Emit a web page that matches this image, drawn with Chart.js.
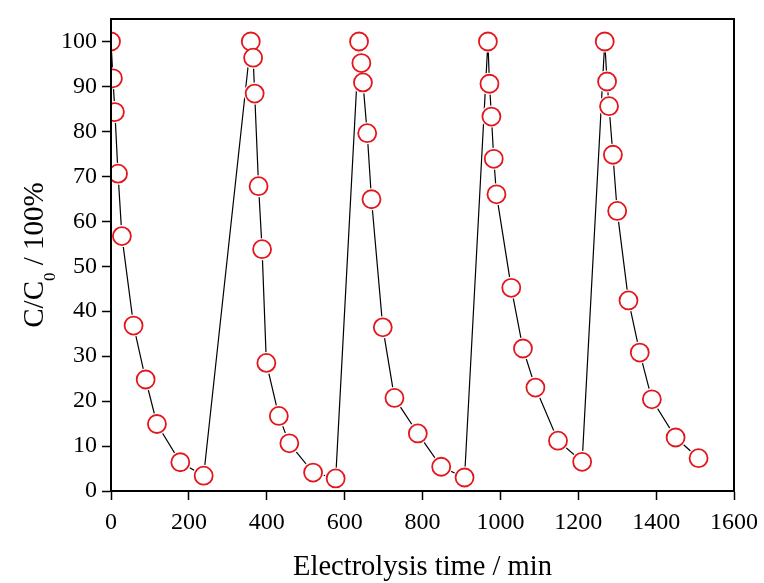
<!DOCTYPE html>
<html>
<head>
<meta charset="utf-8">
<title>Electrolysis cycles</title>
<script src="https://cdn.jsdelivr.net/npm/chart.js@4/dist/chart.umd.min.js"></script>
<style>
    html, body { margin: 0; padding: 0; background: #fff; }
    #wrap { width: 764px; height: 583px; }
</style>
</head>
<body>
<div id="wrap"><canvas id="myChart" width="764" height="583"></canvas></div>
<script>
// electrolysis time (min), 5 runs of 10 samples
const timeMin = [
    0, 5, 10, 18, 28, 58, 89, 118, 178, 238,
    359, 365, 369, 379, 388, 399, 431, 458, 519, 577,
    637, 643, 647, 658, 669, 698, 728, 788, 848, 908,
    968, 972, 977, 983, 990, 1028, 1058, 1090, 1148, 1210,
    1268, 1274, 1279, 1289, 1300, 1329, 1358, 1389, 1450, 1509
];

// C/C0 in %
const ratioPct = [
    100, 91.8, 84.3, 70.6, 56.7, 36.8, 24.8, 14.9, 6.4, 3.4,
    100, 96.4, 88.4, 67.8, 53.8, 28.5, 16.7, 10.6, 4.1, 2.8,
    100, 95.2, 90.9, 79.6, 64.9, 36.4, 20.7, 12.8, 5.4, 3.0,
    100, 90.6, 83.3, 73.9, 66.0, 45.2, 31.7, 23.0, 11.2, 6.5,
    100, 91.1, 85.6, 74.8, 62.3, 42.4, 30.8, 20.4, 11.9, 7.3
];

const xTicks = [0, 200, 400, 600, 800, 1000, 1200, 1400, 1600];
const yTicks = [0, 10, 20, 30, 40, 50, 60, 70, 80, 90, 100];

const xTitle = 'Electrolysis time / min';
const yTitleMain = 'C/C';
const yTitleSub = '0';
const yTitleRest = ' / 100%';

const points = timeMin.map((t, i) => ({ x: t, y: ratioPct[i] }));

const serif = '"Liberation Serif", "Times New Roman", serif';

// frame + axis titles
const decorations = {
    id: 'decorations',
    afterDatasetsDraw(chart) {
        const ctx = chart.ctx;
        const a = chart.chartArea;
        ctx.save();
        ctx.strokeStyle = '#000';
        ctx.lineWidth = 2;
        ctx.strokeRect(a.left, a.top, a.right - a.left, a.bottom - a.top);
        ctx.restore();
    },
    afterDraw(chart) {
        const ctx = chart.ctx;
        const a = chart.chartArea;
        ctx.save();
        ctx.fillStyle = '#000';

        // x title
        ctx.font = '28.5px ' + serif;
        ctx.textAlign = 'center';
        ctx.textBaseline = 'alphabetic';
        ctx.fillText(xTitle, (a.left + a.right) / 2, a.bottom + 84);

        // y title with subscript, rotated
        const big = '29px ' + serif;
        const small = '17px ' + serif;
        ctx.font = big;
        const w1 = ctx.measureText(yTitleMain).width;
        const w3 = ctx.measureText(yTitleRest).width;
        ctx.font = small;
        const w2 = ctx.measureText(yTitleSub).width;
        const total = w1 + w2 + w3;

        ctx.translate(a.left - 68, (a.top + a.bottom) / 2);
        ctx.rotate(-Math.PI / 2);
        ctx.textAlign = 'left';
        let x = -total / 2;
        ctx.font = big;
        ctx.fillText(yTitleMain, x, 0);
        x += w1;
        ctx.font = small;
        ctx.fillText(yTitleSub, x, 12);
        x += w2;
        ctx.font = big;
        ctx.fillText(yTitleRest, x, 0);
        ctx.restore();
    }
};

const data = {
    datasets: [
        {
            // red open circles
            data: points,
            showLine: false,
            order: 0,
            clip: 0,
            pointRadius: 9,
            pointBorderWidth: 1.8,
            pointBorderColor: '#e3161c',
            pointBackgroundColor: '#ffffff'
        },
        {
            // connecting line, white halo under each marker
            data: points,
            order: 1,
            clip: 0,
            borderColor: '#000',
            borderWidth: 1.2,
            tension: 0,
            pointRadius: 11,
            pointBorderWidth: 0,
            pointBackgroundColor: '#ffffff'
        }
    ]
};

const config = {
    type: 'line',
    data: data,
    plugins: [decorations],
    options: {
        responsive: false,
        animation: false,
        events: [],
        layout: {
            padding: { top: 19, right: 30, left: 0, bottom: 0 }
        },
        plugins: {
            legend: { display: false },
            tooltip: { enabled: false }
        },
        scales: {
            x: {
                type: 'linear',
                min: 0,
                max: 1600,
                afterBuildTicks: (scale) => { scale.ticks = xTicks.map(v => ({ value: v })); },
                afterFit: (scale) => {
                    scale.height = 92;
                    scale.paddingLeft = 0;
                    scale.paddingRight = 0;
                },
                ticks: {
                    color: '#000',
                    padding: 8,
                    maxRotation: 0,
                    autoSkip: false,
                    callback: (v) => String(v),
                    font: { family: serif, size: 24 }
                },
                grid: {
                    drawOnChartArea: false,
                    drawTicks: true,
                    tickLength: 9,
                    tickColor: '#000',
                    tickWidth: 1.5
                },
                border: { display: true, color: '#000', width: 2 }
            },
            y: {
                type: 'linear',
                min: 0,
                max: 105,
                afterBuildTicks: (scale) => { scale.ticks = yTicks.map(v => ({ value: v })); },
                afterFit: (scale) => {
                    scale.width = 111;
                    scale.paddingTop = 0;
                    scale.paddingBottom = 0;
                },
                ticks: {
                    color: '#000',
                    padding: 5,
                    autoSkip: false,
                    callback: (v) => String(v),
                    font: { family: serif, size: 24 }
                },
                grid: {
                    drawOnChartArea: false,
                    drawTicks: true,
                    tickLength: 9,
                    tickColor: '#000',
                    tickWidth: 1.5
                },
                border: { display: true, color: '#000', width: 2 }
            }
        }
    }
};

const myChart = new Chart(
    document.getElementById('myChart'),
    config
);
</script>
</body>
</html>
